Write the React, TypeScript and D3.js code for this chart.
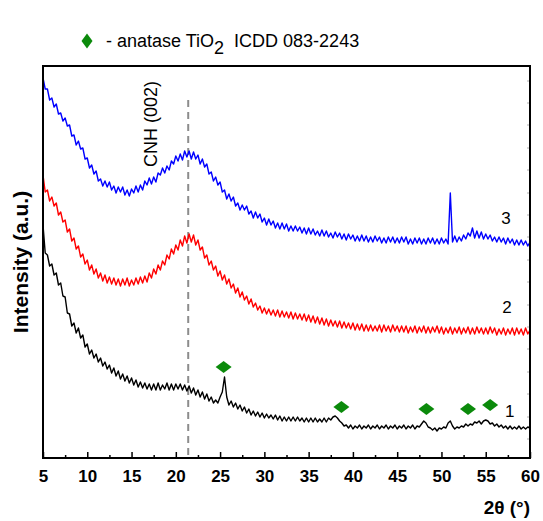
import React, { useEffect, useRef } from "react";
import * as d3 from "d3";

// XRD patterns, 2theta from 5 to 60 deg, one reading every 0.25 deg (rows of 5 deg)
const startAngle = 5;
const angleStep = 0.25;

const pattern3 = [
  380, 369, 369, 358, 360, 351, 354, 344, 345, 337, 340, 332, 333, 322, 323, 313, 317, 309, 310, 299,
  300, 290, 293, 284, 287, 277, 279, 272, 277, 271, 276, 268, 272, 265, 271, 266, 271, 263, 268, 262,
  269, 265, 272, 266, 273, 268, 277, 273, 280, 274, 281, 276, 285, 283, 290, 285, 292, 288, 297, 294,
  302, 297, 304, 298, 307, 301, 307, 299, 306, 299, 303, 294, 299, 291, 294, 284, 286, 277, 281, 273,
  276, 266, 268, 259, 264, 257, 261, 252, 255, 248, 253, 248, 252, 244, 247, 240, 246, 240, 244, 236,
  240, 233, 239, 233, 237, 230, 235, 229, 235, 229, 234, 227, 232, 227, 232, 227, 231, 225, 230, 224,
  230, 224, 229, 223, 227, 222, 228, 222, 227, 221, 225, 220, 226, 221, 225, 219, 224, 218, 224, 219,
  223, 217, 222, 217, 223, 217, 222, 216, 221, 216, 222, 217, 221, 215, 220, 215, 221, 216, 221, 215,
  220, 215, 221, 216, 221, 214, 219, 214, 220, 215, 220, 214, 219, 214, 220, 215, 220, 214, 219, 214,
  220, 215, 219, 214, 265, 216, 222, 216, 221, 217, 223, 219, 225, 222, 230, 220, 227, 220, 226, 219,
  224, 219, 223, 217, 221, 216, 221, 216, 220, 214, 220, 215, 219, 213, 218, 213, 218, 213, 217, 212,
  216,
];

const pattern2 = [
  283, 266, 268, 257, 261, 252, 255, 243, 246, 236, 238, 226, 229, 217, 220, 209, 212, 201, 204, 194,
  198, 188, 193, 184, 189, 180, 185, 177, 183, 175, 181, 174, 180, 173, 179, 172, 179, 173, 180, 172,
  178, 173, 180, 174, 181, 175, 182, 176, 185, 180, 189, 184, 193, 188, 197, 193, 203, 199, 209, 204,
  213, 208, 218, 212, 222, 215, 224, 216, 223, 213, 218, 208, 211, 200, 203, 193, 197, 188, 192, 182,
  187, 178, 183, 174, 179, 170, 174, 165, 170, 161, 166, 158, 162, 154, 159, 151, 155, 148, 152, 145,
  150, 144, 149, 143, 148, 142, 148, 141, 147, 141, 146, 140, 146, 139, 145, 139, 144, 138, 144, 137,
  143, 136, 142, 135, 141, 134, 140, 133, 139, 132, 138, 132, 137, 131, 137, 130, 136, 130, 135, 129,
  135, 128, 134, 128, 134, 127, 133, 127, 133, 127, 132, 127, 133, 126, 133, 127, 132, 126, 133, 127,
  132, 126, 132, 126, 132, 125, 131, 126, 132, 125, 131, 126, 132, 125, 131, 125, 131, 126, 132, 125,
  131, 124, 130, 125, 131, 124, 130, 125, 131, 124, 130, 125, 131, 124, 130, 124, 131, 125, 130, 124,
  130, 124, 131, 125, 130, 123, 129, 124, 130, 123, 129, 124, 130, 123, 130, 124, 129, 123, 130, 124,
  128,
];

const pattern1 = [
  233, 205, 203, 192, 194, 183, 185, 173, 175, 162, 161, 145, 144, 132, 135, 125, 130, 120, 123, 111,
  114, 104, 108, 100, 104, 96, 100, 92, 96, 89, 93, 85, 90, 82, 87, 79, 84, 77, 82, 75,
  80, 73, 78, 71, 76, 70, 75, 69, 74, 68, 74, 68, 75, 68, 73, 69, 75, 68, 74, 68,
  74, 69, 74, 68, 73, 67, 72, 65, 70, 63, 68, 61, 66, 59, 64, 57, 61, 55, 58, 55,
  61, 66, 81, 61, 53, 57, 51, 55, 49, 53, 47, 51, 45, 49, 43, 47, 42, 46, 41, 45,
  40, 44, 40, 43, 39, 43, 38, 42, 37, 41, 37, 41, 37, 41, 37, 41, 37, 40, 36, 40,
  36, 40, 36, 40, 36, 39, 36, 40, 36, 40, 38, 41, 42, 40, 37, 35, 32, 33, 30, 33,
  29, 32, 30, 33, 29, 32, 30, 33, 29, 32, 30, 33, 29, 32, 30, 33, 29, 32, 30, 33,
  29, 32, 30, 33, 29, 32, 30, 33, 29, 32, 31, 34, 37, 35, 31, 30, 28, 30, 27, 30,
  29, 31, 30, 35, 37, 32, 29, 31, 30, 32, 31, 34, 32, 34, 33, 36, 35, 37, 34, 37,
  38, 37, 34, 35, 32, 34, 31, 33, 30, 32, 29, 32, 29, 31, 29, 32, 29, 31, 29, 31,
  30,
];

const xTicks = [5, 10, 15, 20, 25, 30, 35, 40, 45, 50, 55, 60];
const xMinorTicks = [7.5, 12.5, 17.5, 22.5, 27.5, 32.5, 37.5, 42.5, 47.5, 52.5, 57.5];
const rightTicks = [19, 41, 64, 86, 109, 131, 153, 176, 198, 221, 243, 265, 288, 310, 333, 355, 377];

// anatase TiO2 reflections marked on pattern 1 [2theta, intensity]
const anatasePeaks = [
  [25.4, 91],
  [38.7, 51],
  [48.3, 49],
  [53.0, 49],
  [55.5, 53],
];
const cnhAngle = 21.4;
const curveLabels = [
  { text: "3", angle: 57.3, value: 234 },
  { text: "2", angle: 57.4, value: 145 },
  { text: "1", angle: 57.7, value: 41 },
];

const series = [
  { values: pattern1, color: "#000000" },
  { values: pattern2, color: "#ff0000" },
  { values: pattern3, color: "#0000ff" },
];

const font = "'Liberation Sans', Arial, Helvetica, sans-serif";
const green = "#0b8a0b";

export default function App() {
  const svgRef = useRef(null);

  useEffect(() => {
    const svg = d3.select(svgRef.current);
    svg.selectAll("*").remove();

    const width = 543,
      height = 521;
    const margin = { top: 66, right: 13, bottom: 63, left: 43 };

    const x = d3
      .scaleLinear()
      .domain([5, 60])
      .range([margin.left, width - margin.right]);
    const y = d3
      .scaleLinear()
      .domain([0, 392])
      .range([height - margin.bottom, margin.top]);

    const line = d3
      .line<number>()
      .x((d, i) => x(startAngle + i * angleStep))
      .y((d) => y(d));

    // dashed CNH (002) marker
    svg
      .append("line")
      .attr("x1", x(cnhAngle))
      .attr("x2", x(cnhAngle))
      .attr("y1", y(358))
      .attr("y2", y(0))
      .attr("stroke", "#8c8c8c")
      .attr("stroke-width", 2)
      .attr("stroke-dasharray", "7,5");

    svg
      .append("text")
      .attr("transform", `translate(${x(cnhAngle) - 31},${y(334)}) rotate(-90)`)
      .attr("text-anchor", "middle")
      .attr("font-family", font)
      .attr("font-size", 18)
      .text("CNH (002)");

    svg
      .selectAll(".pattern")
      .data(series)
      .join("path")
      .attr("class", "pattern")
      .attr("d", (s) => line(s.values))
      .attr("fill", "none")
      .attr("stroke", (s) => s.color)
      .attr("stroke-width", 1.4)
      .attr("stroke-linejoin", "round");

    // anatase markers
    const diamond = (cx: number, cy: number, w: number, h: number) =>
      `M${cx},${cy - h / 2}L${cx + w / 2},${cy}L${cx},${cy + h / 2}L${cx - w / 2},${cy}Z`;

    svg
      .selectAll(".anatase")
      .data(anatasePeaks)
      .join("path")
      .attr("class", "anatase")
      .attr("d", (d) => diamond(x(d[0]), y(d[1]), 16, 12))
      .attr("fill", green);

    svg
      .selectAll(".curve-label")
      .data(curveLabels)
      .join("text")
      .attr("class", "curve-label")
      .attr("x", (d) => x(d.angle))
      .attr("y", (d) => y(d.value))
      .attr("text-anchor", "middle")
      .attr("font-family", font)
      .attr("font-size", 17)
      .text((d) => d.text);

    // x axis, ticks pointing inward
    const xAxis = d3
      .axisBottom(x)
      .tickValues(xTicks)
      .tickSizeInner(-6)
      .tickSizeOuter(0)
      .tickPadding(12)
      .tickFormat(d3.format("d"));
    const gx = svg
      .append("g")
      .attr("transform", `translate(0,${height - margin.bottom})`)
      .call(xAxis);
    gx.select(".domain").remove();
    gx.selectAll("line").attr("stroke", "#000").attr("stroke-width", 1.5);
    gx.selectAll("text")
      .attr("font-family", font)
      .attr("font-size", 17)
      .attr("font-weight", "bold")
      .attr("fill", "#000");

    const gxMinor = svg
      .append("g")
      .attr("transform", `translate(0,${height - margin.bottom})`)
      .call(d3.axisBottom(x).tickValues(xMinorTicks).tickSizeInner(-3).tickSizeOuter(0).tickFormat(() => ""));
    gxMinor.select(".domain").remove();
    gxMinor.selectAll("line").attr("stroke", "#000").attr("stroke-width", 1.5);

    // faint right-hand ticks
    svg
      .selectAll(".rtick")
      .data(rightTicks)
      .join("line")
      .attr("class", "rtick")
      .attr("x1", width - margin.right)
      .attr("x2", width - margin.right - 3)
      .attr("y1", (d) => y(d))
      .attr("y2", (d) => y(d))
      .attr("stroke", "#b0b0b0")
      .attr("stroke-width", 1);

    // frame
    svg
      .append("rect")
      .attr("x", margin.left)
      .attr("y", margin.top)
      .attr("width", width - margin.left - margin.right)
      .attr("height", height - margin.top - margin.bottom)
      .attr("fill", "none")
      .attr("stroke", "#000")
      .attr("stroke-width", 2);

    // axis titles
    svg
      .append("text")
      .attr("x", width - margin.right)
      .attr("y", 514)
      .attr("text-anchor", "end")
      .attr("font-family", font)
      .attr("font-size", 19)
      .attr("font-weight", "bold")
      .text("2θ (°)");

    svg
      .append("text")
      .attr("transform", `translate(28,${(margin.top + height - margin.bottom) / 2}) rotate(-90)`)
      .attr("text-anchor", "middle")
      .attr("font-family", font)
      .attr("font-size", 21)
      .attr("font-weight", "bold")
      .text("Intensity (a.u.)");

    // legend
    svg.append("path").attr("d", diamond(87, 41, 11, 15)).attr("fill", green);
    const legend = svg
      .append("text")
      .attr("x", 106)
      .attr("y", 47)
      .attr("font-family", font)
      .attr("font-size", 18);
    legend.append("tspan").text("- anatase TiO");
    legend.append("tspan").attr("dy", 7).text("2");
    legend.append("tspan").attr("dy", -7).attr("dx", 10).text("ICDD 083-2243");
  }, []);

  return (
    <svg
      ref={svgRef}
      width={543}
      height={521}
      style={{ position: "absolute", left: 0, top: 0, background: "#fff" }}
    />
  );
}
